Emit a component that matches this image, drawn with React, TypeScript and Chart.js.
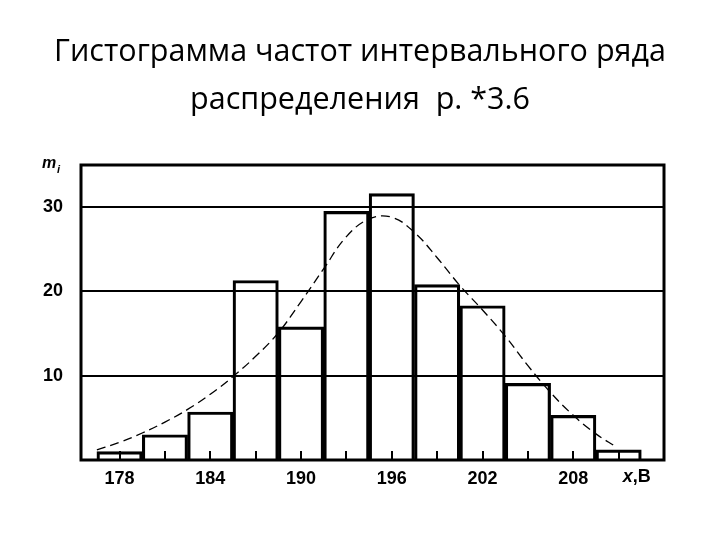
import { useEffect, useRef } from "react";
import { Chart, registerables } from "chart.js";

Chart.register(...registerables);

const titleLines = ["Гистограмма частот интервального ряда", "распределения  р. *3.6"];
const binCenters = [178, 181, 184, 187, 190, 193, 196, 199, 202, 205, 208, 211];
const frequencies = [1, 3, 5.7, 21.3, 15.8, 29.5, 31.6, 20.8, 18.3, 9.1, 5.3, 1.2];
const curveX = [176.5, 178, 179.5, 181, 182.5, 184, 185.5, 187, 188.5, 190, 191.5, 193, 194.5, 196, 197.5, 199, 200.5, 202, 203.5, 205, 206.5, 208, 209.5, 210.8];
const curveY = [1.2, 2.1, 3.2, 4.5, 6.0, 7.8, 9.9, 12.3, 15.1, 18.8, 22.7, 26.5, 28.6, 28.8, 27.0, 24.0, 20.7, 17.8, 14.7, 11.2, 8.0, 5.3, 3.1, 1.6];
const xTickValues = [178, 184, 190, 196, 202, 208];
const yTickValues = [10, 20, 30];
const xAxisVar = "x";
const xAxisUnit = ",В";
const xAxisLabelAt = 212.2;
const yAxisVar = "m";
const yAxisSub = "i";

const TICK_FONT = "'Liberation Sans', Arial, sans-serif";
const TITLE_FONT = "30.5px 'Open Sans', sans-serif";
const TITLE_BASELINES = [61, 109];

const titlePlugin = {
  id: "centeredTitle",
  afterDraw(chart: any) {
    const { ctx, width } = chart;
    ctx.save();
    ctx.fillStyle = "#000";
    ctx.font = TITLE_FONT;
    ctx.textAlign = "center";
    ctx.textBaseline = "alphabetic";
    titleLines.forEach((line, i) => ctx.fillText(line, width / 2, TITLE_BASELINES[i]));
    ctx.restore();
  },
};

const decorPlugin = {
  id: "decor",
  afterDatasetsDraw(chart: any) {
    const { ctx, chartArea, scales } = chart;
    const xs = scales.x;
    ctx.save();
    ctx.strokeStyle = "#000";
    ctx.lineWidth = 2;
    binCenters.forEach((c) => {
      const px = Math.round(xs.getPixelForValue(c));
      ctx.beginPath();
      ctx.moveTo(px, chartArea.bottom);
      ctx.lineTo(px, chartArea.bottom - 9);
      ctx.stroke();
    });
    ctx.lineWidth = 3;
    ctx.strokeRect(chartArea.left, chartArea.top, chartArea.right - chartArea.left, chartArea.bottom - chartArea.top);
    ctx.fillStyle = "#000";
    ctx.textBaseline = "middle";
    const lx = xs.getPixelForValue(xAxisLabelAt);
    ctx.font = `italic bold 18px ${TICK_FONT}`;
    const w1 = ctx.measureText(xAxisVar).width;
    ctx.font = `bold 18px ${TICK_FONT}`;
    const w2 = ctx.measureText(xAxisUnit).width;
    const start = lx - (w1 + w2) / 2;
    ctx.textAlign = "left";
    ctx.font = `italic bold 18px ${TICK_FONT}`;
    ctx.fillText(xAxisVar, start, chartArea.bottom + 17);
    ctx.font = `bold 18px ${TICK_FONT}`;
    ctx.fillText(xAxisUnit, start + w1, chartArea.bottom + 17);
    ctx.textBaseline = "alphabetic";
    ctx.font = `italic bold 16px ${TICK_FONT}`;
    ctx.fillText(yAxisVar, chartArea.left - 39, chartArea.top + 3);
    ctx.font = `italic bold 11px ${TICK_FONT}`;
    ctx.fillText(yAxisSub, chartArea.left - 24, chartArea.top + 8);
    ctx.restore();
  },
};

export default function App() {
  const canvasRef = useRef<HTMLCanvasElement | null>(null);

  useEffect(() => {
    const canvas = canvasRef.current;
    if (!canvas) return;
    const chart = new Chart(canvas, {
      type: "bar",
      data: {
        datasets: [
          {
            type: "line",
            data: curveX.map((x, i) => ({ x, y: curveY[i] })),
            borderColor: "#000",
            borderWidth: 1.3,
            borderDash: [9, 5],
            pointRadius: 0,
            tension: 0.4,
            fill: false,
            order: 0,
          } as any,
          {
            type: "bar",
            data: binCenters.map((x, i) => ({ x, y: frequencies[i] })),
            backgroundColor: "rgba(0,0,0,0)",
            borderColor: "#000",
            borderWidth: 2.5,
            barPercentage: 1,
            categoryPercentage: 1,
            order: 1,
          } as any,
        ],
      },
      options: {
        responsive: false,
        animation: false,
        layout: { padding: { top: 165, left: 0, right: 56, bottom: 40 } },
        plugins: {
          legend: { display: false },
          tooltip: { enabled: false },
          title: { display: false },
        },
        scales: {
          x: {
            type: "linear",
            offset: false,
            min: 175.45,
            max: 214,
            grid: { display: false },
            border: { display: false },
            afterBuildTicks: (axis: any) => {
              axis.ticks = xTickValues.map((v) => ({ value: v }));
            },
            afterFit: (axis: any) => {
              axis.height = 40;
            },
            ticks: {
              color: "#000",
              padding: 0,
              maxRotation: 0,
              autoSkip: false,
              font: { family: TICK_FONT, size: 18, weight: "bold" },
              callback: (v: any) => String(v),
            },
          },
          y: {
            min: 0,
            max: 35,
            grid: { color: "#000", lineWidth: 2, drawTicks: false },
            border: { display: false },
            afterBuildTicks: (axis: any) => {
              axis.ticks = yTickValues.map((v) => ({ value: v }));
            },
            afterFit: (axis: any) => {
              axis.width = 81;
            },
            ticks: {
              color: "#000",
              padding: 18,
              font: { family: TICK_FONT, size: 18, weight: "bold" },
              callback: (v: any) => String(v),
            },
          },
        },
      } as any,
      plugins: [decorPlugin, titlePlugin],
    });
    return () => chart.destroy();
  }, []);

  return (
    <div style={{ position: "fixed", left: 0, top: 0, width: 720, height: 540, background: "#fff" }}>
      <canvas ref={canvasRef} width={720} height={540} />
    </div>
  );
}
